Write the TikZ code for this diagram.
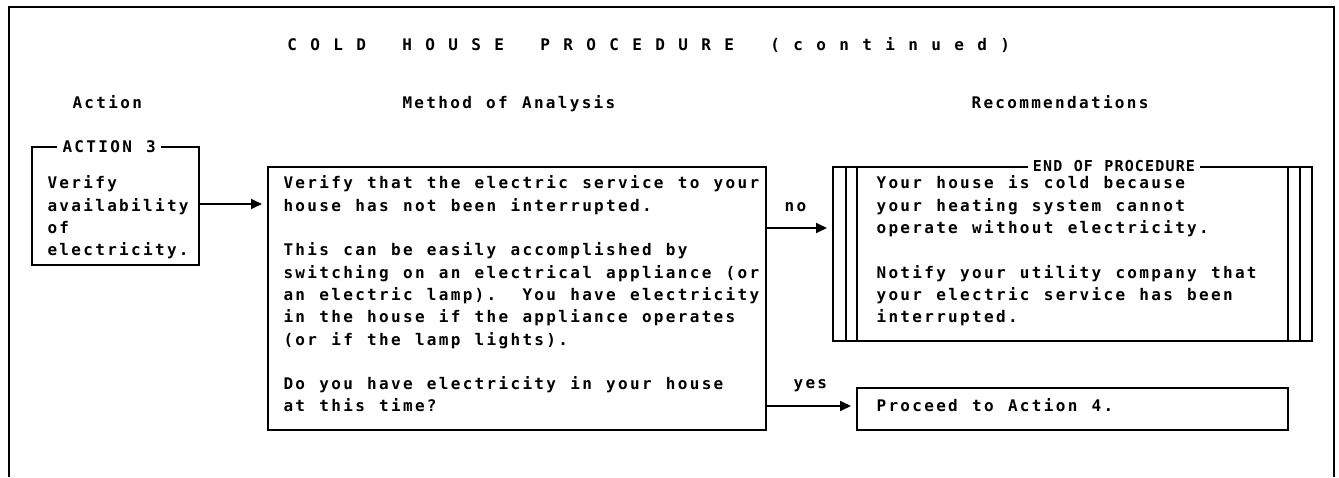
\documentclass[tikz,border=0pt]{standalone}
\usepackage{fontspec}
\usetikzlibrary{arrows.meta}
\newfontfamily\bodyfam{DejaVu Sans Mono}
\ExplSyntaxOn
\dim_new:N \l_mono_pitch_dim
\cs_new_protected:Npn \setpitch #1 { \dim_set:Nn \l_mono_pitch_dim {#1} }
\cs_new_protected:Npn \ml #1
  {
    \str_map_inline:nn {#1}
      {
        \str_if_eq:nnTF {##1} {_}
          { \hbox_to_wd:nn { \l_mono_pitch_dim } { } }
          { \hbox_to_wd:nn { \l_mono_pitch_dim } { \hss ##1 \hss } }
      }
  }
\ExplSyntaxOff
\newcommand\bfnt{\fontsize{8pt}{11.15pt}\bodyfam\bfseries\setpitch{5.975pt}}
\newcommand\tfnt{\fontsize{8pt}{11.15pt}\bodyfam\bfseries\setpitch{5.75pt}}
\newcommand\efnt{\fontsize{7.5pt}{11.15pt}\bodyfam\bfseries\setpitch{5.1pt}}
\newcommand\ts{\rule{0pt}{7pt}}
\tikzset{
  frame/.style={line width=1pt},
  box/.style={draw, line width=0.9pt, inner sep=0pt, outer sep=0pt, anchor=north west},
  txt/.style={inner sep=0pt, anchor=north west, align=left, font=\bfnt},
  lbl/.style={inner sep=0pt, anchor=base west, font=\bfnt},
  ttl/.style={inner sep=0pt, anchor=base west, font=\tfnt},
  onln/.style={inner xsep=2pt, inner ysep=2pt, anchor=base west, font=\bfnt, fill=white},
  arr/.style={-{Triangle[length=5.5pt,width=5pt]}, line width=0.9pt, shorten >=3pt},
  inln/.style={line width=0.9pt},
}
\begin{document}
\begin{tikzpicture}[x=0.5pt,y=-0.5pt]
\useasboundingbox (0,0) rectangle (1339,477);
% outer frame (open at bottom)
\draw[frame] (9,477) -- (9,7) -- (1334,7) -- (1334,477);
% title and headers
\node[ttl] (title) at (286,50.5) {\ml{C O L D___H O U S E___P R O C E D U R E___( c o n t i n u e d )}};
\node[lbl] (hAction) at (71,108.5) {\ml{Action}};
\node[lbl] (hMethod) at (401,108.5) {\ml{Method of Analysis}};
\node[lbl] (hRecom) at (970,108.5) {\ml{Recommendations}};
% action box
\node[box, minimum width=83.5pt, minimum height=59pt] (action) at (32,147) {};
\node[onln] (actlbl) at (57,152.5) {\ml{ACTION 3}};
\node[txt] (acttxt) at (46,174.5) {\ts\ml{Verify}\\\ml{availability}\\\ml{of}\\\ml{electricity.}};
% method box
\node[box, minimum width=249pt, minimum height=131.5pt] (method) at (268,167) {};
\node[txt] (methtxt) at (282,174.5) {\ts\ml{Verify that the electric service to your}\\
\ml{house has not been interrupted.}\\[11.15pt]
\ml{This can be easily accomplished by}\\
\ml{switching on an electrical appliance (or}\\
\ml{an electric lamp)._ You have electricity}\\
\ml{in the house if the appliance operates}\\
\ml{(or if the lamp lights).}\\[11.15pt]
\ml{Do you have electricity in your house}\\
\ml{at this time?}};
% end of procedure box
\node[box, minimum width=239.5pt, minimum height=87pt] (endbox) at (833,167) {};
\draw[inln] (846,167) -- (846,341);
\draw[inln] (857,167) -- (857,341);
\draw[inln] (1288,167) -- (1288,341);
\draw[inln] (1300,167) -- (1300,341);
\node[onln, font=\efnt] (endlbl) at (1028,171.5) {\ml{END OF PROCEDURE}};
\node[txt] (endtxt) at (875,174.5) {\ts\ml{Your house is cold because}\\
\ml{your heating system cannot}\\
\ml{operate without electricity.}\\[11.15pt]
\ml{Notify your utility company that}\\
\ml{your electric service has been}\\
\ml{interrupted.}};
% proceed box
\node[box, minimum width=215.5pt, minimum height=21pt] (proceed) at (857,388) {};
\node[lbl] (proctxt) at (875,411.5) {\ml{Proceed to Action 4.}};
% connectors
\coordinate (ya) at (0,204);
\coordinate (yn) at (0,228);
\coordinate (yy) at (0,406);
\draw[arr] (action.east |- ya) -- (method.west |- ya);
\draw[arr] (method.east |- yn) -- (endbox.west |- yn);
\draw[arr] (method.east |- yy) -- (proceed.west |- yy);
\node[lbl] (nolbl) at (783,211) {\ml{no}};
\node[lbl] (yeslbl) at (792,388) {\ml{yes}};
\end{tikzpicture}
\end{document}
